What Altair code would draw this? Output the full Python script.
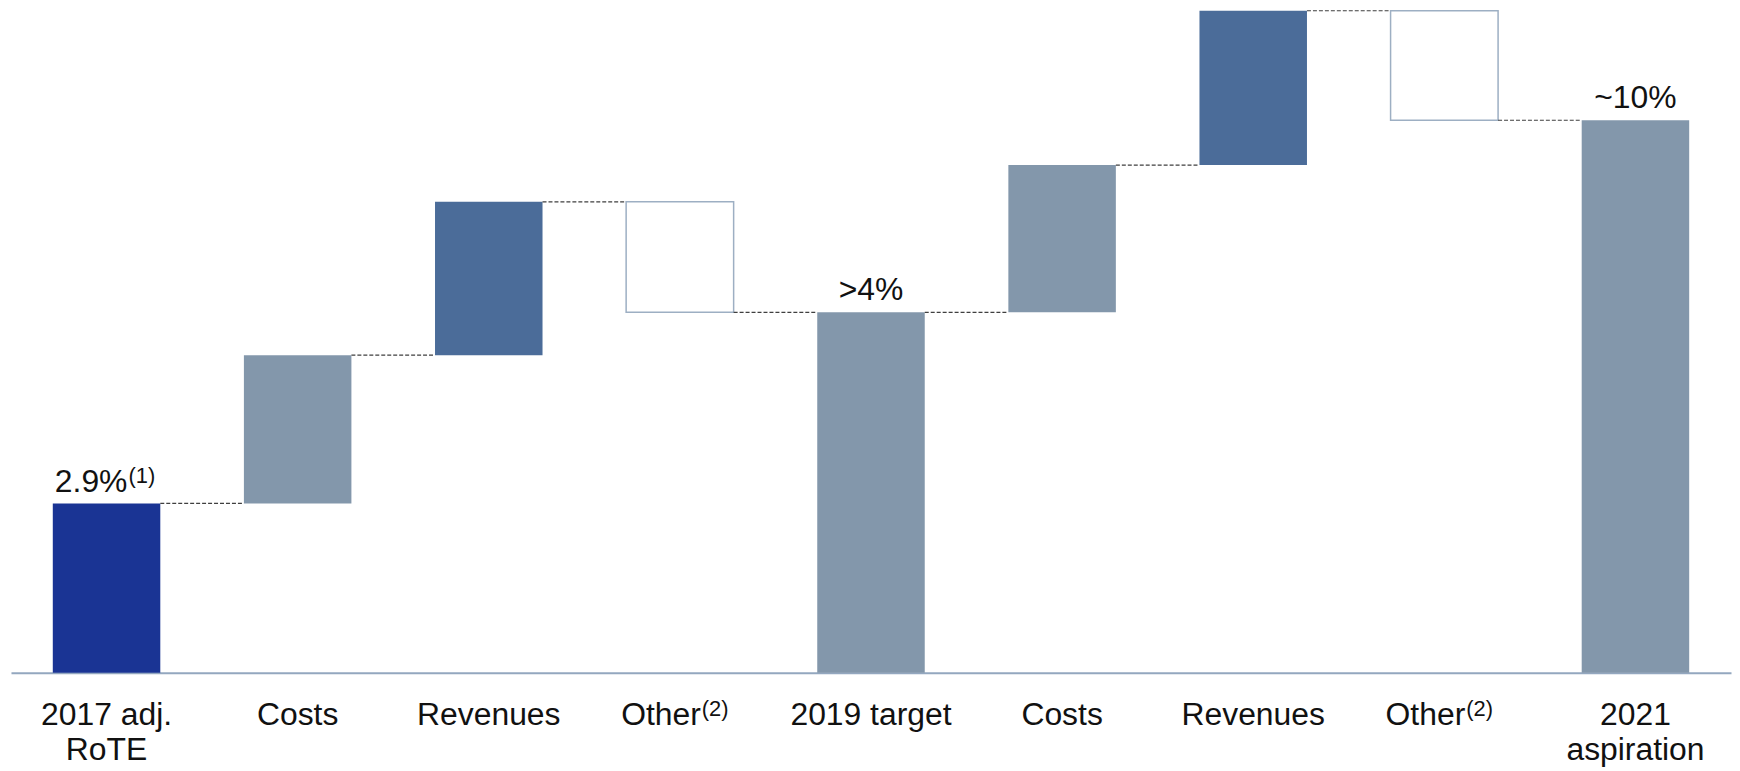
import altair as alt
import pandas as pd

# ---- data (heights in relative chart units) ----
keys = ["k0", "k1", "k2", "k3", "k4", "k5", "k6", "k7", "k8"]
axis_labels = ["2017 adj.\nRoTE", "Costs", "Revenues", "Other", "2019 target",
               "Costs", "Revenues", "Other", "2021\naspiration"]
axis_sups = ["", "", "", "(2)", "", "", "", "(2)", ""]
kinds = ["start", "cost", "revenue", "other", "total", "cost", "revenue", "other", "total"]
deltas = [170, 149, 154, -111, 0, 148, 155, -110, 0]
value_labels = ["2.9%", "", "", "", ">4%", "", "", "", "~10%"]
value_sups = ["(1)", "", "", "", "", "", "", "", ""]
kind_colors = {"start": "#1A3494", "cost": "#8397AB", "revenue": "#4B6C99",
               "total": "#8397AB", "other": "#FFFFFF"}

# ---- waterfall geometry ----
rows = []
level = 0
for k, lab, sup, kind, d, vl, vs in zip(keys, axis_labels, axis_sups, kinds, deltas,
                                        value_labels, value_sups):
    if kind == "start":
        base, top = 0, d
        level = d
    elif kind == "total":
        base, top = 0, level
    else:
        base, top = level, level + d
        level = level + d
    rows.append(dict(key=k, label=lab, sup=sup, kind=kind, base=base, top=top,
                     hi=max(base, top), lo=min(base, top), end=level,
                     vlab=vl, vsup=vs, color=kind_colors[kind], zero=0))
df = pd.DataFrame(rows)

conn = pd.DataFrame([dict(frm=df.key[i], to=df.key[i + 1], level=df.end[i])
                     for i in range(len(df) - 1)])

FONT = "Liberation Sans"
xscale = alt.Scale(domain=keys, paddingInner=0.4375, paddingOuter=0.21875)
xaxis = alt.Axis(labels=False, ticks=False, title=None, grid=False,
                 domainColor="#93A7BF", domainWidth=2)
yscale = alt.Scale(domain=[0, 666], nice=False)

X = alt.X("key:N", scale=xscale, axis=xaxis, sort=keys)
base = alt.Chart(df)

bars = base.transform_filter("datum.kind != 'other'").mark_bar().encode(
    x=X,
    y=alt.Y("base:Q", scale=yscale, axis=None),
    y2="top:Q",
    color=alt.Color("color:N", scale=None),
)

others = base.transform_filter("datum.kind == 'other'").mark_bar(
    fill="#FFFFFF", stroke="#9DAFC3", strokeWidth=1.5
).encode(
    x=X,
    y=alt.Y("base:Q", scale=yscale, axis=None),
    y2="top:Q",
)

connectors = alt.Chart(conn).mark_rule(
    color="#3F3F3F", strokeWidth=1.2, strokeDash=[4, 2]
).encode(
    x=alt.X("frm:N", scale=xscale, axis=xaxis, sort=keys, bandPosition=1),
    x2=alt.X2("to:N", bandPosition=0),
    y=alt.Y("level:Q", scale=yscale, axis=None),
)

# value labels above bars
val_plain = base.transform_filter("datum.vlab != '' && datum.vsup == ''").mark_text(
    font=FONT, fontSize=32, color="#111111", align="center", baseline="alphabetic", dy=-12
).encode(x=X, y=alt.Y("hi:Q", scale=yscale, axis=None), text="vlab:N")

val_main = base.transform_filter("datum.vsup != ''").mark_text(
    font=FONT, fontSize=32, color="#111111", align="right", baseline="alphabetic",
    dy=-12, dx=21
).encode(x=X, y=alt.Y("hi:Q", scale=yscale, axis=None), text="vlab:N")

val_sup = base.transform_filter("datum.vsup != ''").mark_text(
    font=FONT, fontSize=22, color="#111111", align="left", baseline="alphabetic",
    dy=-21, dx=22
).encode(x=X, y=alt.Y("hi:Q", scale=yscale, axis=None), text="vsup:N")

# category labels under the axis
cat_plain = base.transform_filter("datum.sup == ''").mark_text(
    font=FONT, fontSize=32, color="#111111", align="center", baseline="top",
    dy=28, lineBreak="\n", lineHeight=35
).encode(x=X, y=alt.Y("zero:Q", scale=yscale, axis=None), text="label:N")

cat_main = base.transform_filter("datum.sup != ''").mark_text(
    font=FONT, fontSize=32, color="#111111", align="right", baseline="top",
    dy=28, dx=21
).encode(x=X, y=alt.Y("zero:Q", scale=yscale, axis=None), text="label:N")

cat_sup = base.transform_filter("datum.sup != ''").mark_text(
    font=FONT, fontSize=22, color="#111111", align="left", baseline="top",
    dy=27, dx=22
).encode(x=X, y=alt.Y("zero:Q", scale=yscale, axis=None), text="sup:N")

chart = alt.layer(
    bars, others, connectors, val_plain, val_main, val_sup, cat_plain, cat_main, cat_sup
).properties(
    width=1728, height=666,
    autosize=alt.AutoSizeParams(type="none"),
    padding={"left": 3, "top": 0, "right": 1, "bottom": 97},
    background="#FFFFFF",
).configure_view(stroke=None)

chart.save("out.html", embed_options={"renderer": "svg", "actions": False})
